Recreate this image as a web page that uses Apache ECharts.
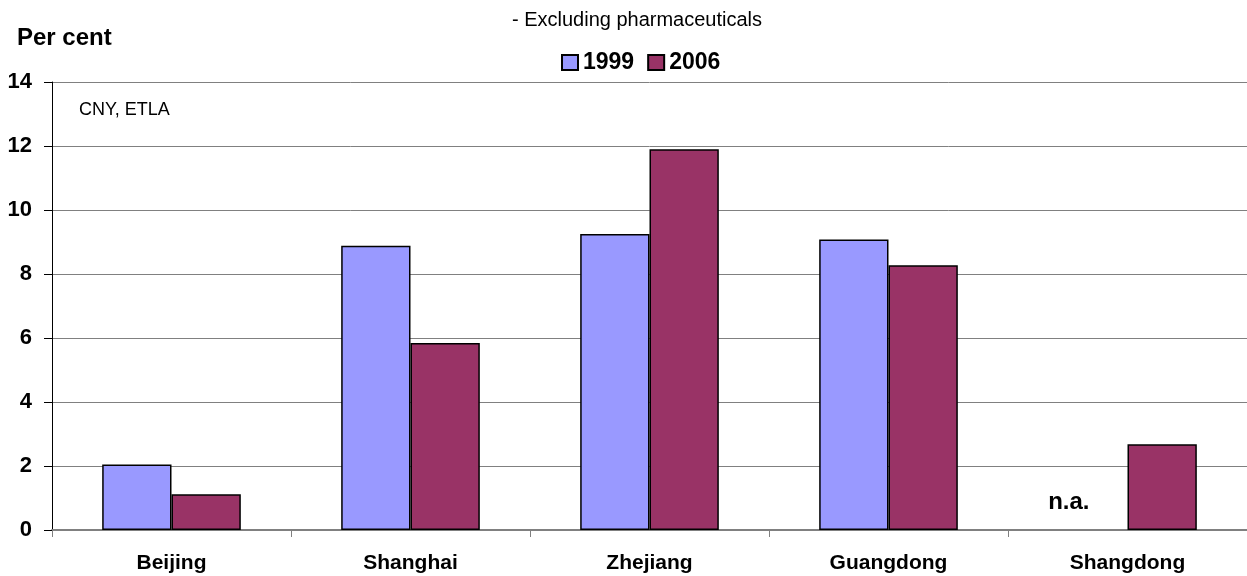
<!DOCTYPE html>
<html>
<head>
<meta charset="utf-8">
<script src="https://cdn.jsdelivr.net/npm/echarts@6/dist/echarts.min.js"></script>
<style>
  html, body { margin: 0; padding: 0; background: #fff; }
  #chart { width: 1247px; height: 576px; }
</style>
</head>
<body>
<div id="chart"></div>
<script>
// 数据
var regions = ['Beijing', 'Shanghai', 'Zhejiang', 'Guangdong', 'Shangdong'];
var share1999 = [2.05, 8.88, 9.25, 9.08, null];
var share2006 = [1.12, 5.84, 11.9, 8.27, 2.68];
var yTicks = [0, 2, 4, 6, 8, 10, 12, 14];

var font = 'Liberation Sans, Arial, sans-serif';

// n.a. 标签放在缺失值的位置
var data1999 = share1999.map(function (v) {
    if (v === null) {
        return {
            value: 0,
            itemStyle: { borderWidth: 0, color: 'transparent' },
            label: {
                show: true, formatter: 'n.a.', position: 'top', offset: [-24, -11],
                fontSize: 24, fontWeight: 'bold', color: '#000', fontFamily: font
            }
        };
    }
    return v;
});

var chart = echarts.init(document.getElementById('chart'));
chart.setOption({
    animation: false,
    textStyle: { fontFamily: font },
    title: [
        { text: 'Per cent', left: 12, top: 21, textStyle: { fontSize: 24, fontWeight: 'bold', color: '#000' } },
        { text: '- Excluding pharmaceuticals', left: 632, top: 5, textAlign: 'center',
          textStyle: { fontSize: 20, fontWeight: 'normal', color: '#000' } },
        { text: 'CNY, ETLA', left: 74, top: 96, textStyle: { fontSize: 18, fontWeight: 'normal', color: '#000' } }
    ],
    legend: {
        top: 46, left: 556,
        itemWidth: 16, itemHeight: 15, itemGap: 13,
        icon: 'rect',
        textStyle: { fontSize: 23, fontWeight: 'bold', color: '#000' },
        data: ['1999', '2006']
    },
    grid: { left: 52, right: 0, top: 82, bottom: 46, containLabel: false },
    xAxis: {
        type: 'category',
        data: regions,
        axisLine: { lineStyle: { color: '#808080', width: 2 } },
        axisTick: { show: true, length: 7, lineStyle: { color: '#808080' } },
        axisLabel: { fontSize: 21, fontWeight: 'bold', color: '#000', margin: 23 }
    },
    yAxis: {
        type: 'value',
        min: yTicks[0], max: yTicks[yTicks.length - 1], interval: 2,
        axisLine: { show: true, lineStyle: { color: '#000', width: 1 } },
        axisTick: { show: true, length: 8, lineStyle: { color: '#000' } },
        axisLabel: { fontSize: 22, fontWeight: 'bold', color: '#000', margin: 20 },
        splitLine: { lineStyle: { color: '#808080', width: 1 } }
    },
    series: [
        {
            name: '1999', type: 'bar', data: data1999,
            barGap: '0%', barCategoryGap: '42%',
            itemStyle: { color: '#9999FF', borderColor: '#000', borderWidth: 1.5 }
        },
        {
            name: '2006', type: 'bar', data: share2006,
            itemStyle: { color: '#993366', borderColor: '#000', borderWidth: 1.5 }
        }
    ]
});
</script>
</body>
</html>
